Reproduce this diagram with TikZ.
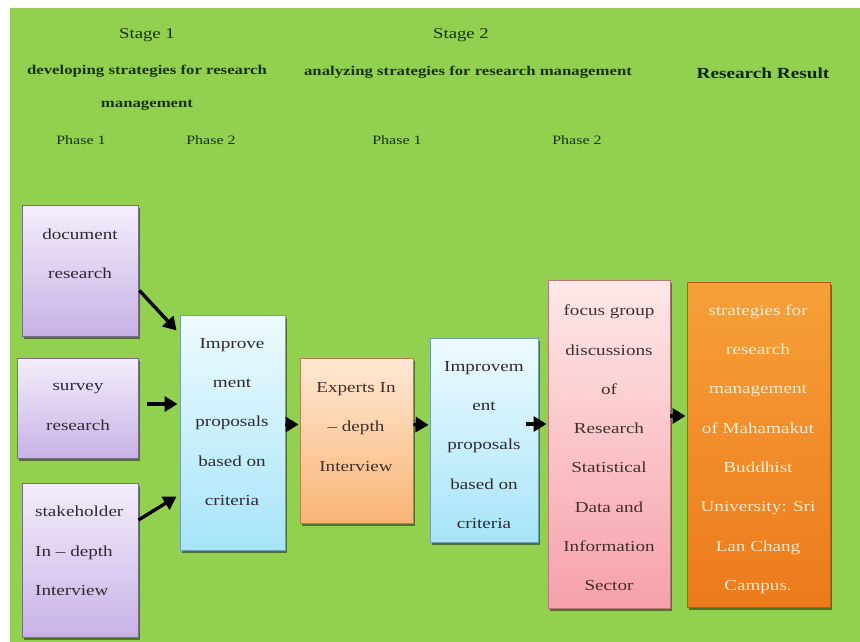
\documentclass[tikz,border=0pt]{standalone}
\usepackage{fontspec}
\setmainfont{Liberation Serif}[FakeStretch=1.25]
\usetikzlibrary{arrows.meta,shadows,calc}

\definecolor{bggreen}{HTML}{92D050}
\definecolor{headtext}{HTML}{1A340A}
\definecolor{resulttext}{HTML}{10240A}
\definecolor{purtop}{HTML}{F4EEFB}
\definecolor{purbot}{HTML}{C7B2E6}
\definecolor{purline}{HTML}{7A6C8A}
\definecolor{blutop}{HTML}{EEFBFF}
\definecolor{blubot}{HTML}{A6E4F8}
\definecolor{bluline}{HTML}{6FA0B4}
\definecolor{lortop}{HTML}{FFE8D4}
\definecolor{lorbot}{HTML}{F8B474}
\definecolor{lorline}{HTML}{B8804C}
\definecolor{pinktop}{HTML}{FFE8E8}
\definecolor{pinkbot}{HTML}{F6A0AA}
\definecolor{pinkline}{HTML}{B87878}
\definecolor{ortop}{HTML}{F6A038}
\definecolor{orbot}{HTML}{EC7A1C}
\definecolor{orline}{HTML}{B85E14}
\definecolor{darkbox}{HTML}{2E2A34}
\definecolor{brownbox}{HTML}{42302C}
\definecolor{creamtext}{HTML}{FDEBD0}

\tikzset{
  panel/.style={draw, line width=0.9pt,
    drop shadow={shadow xshift=2pt, shadow yshift=-2.5pt, opacity=0.45, fill=black}},
  purplebox/.style={panel, draw=purline, top color=purtop, bottom color=purbot},
  bluebox/.style={panel, draw=bluline, top color=blutop, bottom color=blubot},
  lorangebox/.style={panel, draw=lorline, top color=lortop, bottom color=lorbot},
  pinkbox/.style={panel, draw=pinkline, top color=pinktop, bottom color=pinkbot},
  orangebox/.style={panel, draw=orline, top color=ortop, bottom color=orbot},
  boxtext/.style={font=\fontsize{15.3}{39.3}\selectfont, align=center, inner sep=0pt},
  headline/.style={font=\fontsize{12.8}{16}\selectfont, text=headtext, inner sep=0pt},
  headbold/.style={font=\bfseries\fontsize{13.4}{33}\selectfont, text=headtext, align=center, inner sep=0pt},
  flow/.style={line width=3.4pt, -{Triangle[length=13pt,width=15pt]}, black}
}

\begin{document}
\begin{tikzpicture}[x=1pt,y=-1pt]
  \useasboundingbox (0,0) rectangle (860,642);
  \fill[white] (0,0) rectangle (860,642);
  \fill[bggreen] (10,8) rectangle (860,642);

  % stage headings
  \node[headline, font=\fontsize{15}{18}\selectfont] (st1) at (147,35) {Stage 1};
  \node[headline, font=\fontsize{15}{18}\selectfont] (st2) at (461,35) {Stage 2};
  \node[headbold, anchor=north] (st1desc) at (147,65) {developing strategies for research\\management};
  \node[headbold] (st2desc) at (468,72) {analyzing strategies for research management};
  \node[headbold, font=\bfseries\fontsize{15.4}{18}\selectfont, text=resulttext] (result) at (763,73) {Research Result};
  \node[headline] (ph11) at (81,140) {Phase 1};
  \node[headline] (ph12) at (211,140) {Phase 2};
  \node[headline] (ph21) at (397,140) {Phase 1};
  \node[headline] (ph22) at (577,140) {Phase 2};

  % boxes
  \node[purplebox, minimum width=116pt, minimum height=131pt] (doc) at (80,270.5) {};
  \node[purplebox, minimum width=121pt, minimum height=100pt] (survey) at (77.5,408) {};
  \node[purplebox, minimum width=116pt, minimum height=154pt] (stake) at (80,560) {};
  \node[bluebox, minimum width=105pt, minimum height=235pt] (imp1) at (232.5,432.5) {};
  \node[lorangebox, minimum width=113pt, minimum height=165pt] (exp) at (356.5,440.5) {};
  \node[bluebox, minimum width=108pt, minimum height=204pt] (imp2) at (484,440) {};
  \node[pinkbox, minimum width=122pt, minimum height=328pt] (focus) at (609,444) {};
  \node[orangebox, minimum width=143pt, minimum height=325pt] (strat) at (758.5,444.5) {};

  % box texts
  \node[boxtext, text=darkbox] (tdoc) at (80,254) {document\\research};
  \node[boxtext, text=darkbox] (tsurvey) at (78,407) {survey\\research};
  \node[boxtext, text=darkbox, align=left, anchor=west] (tstake) at (35,551) {stakeholder\\In -- depth\\Interview};
  \node[boxtext, text=darkbox] (timp1) at (232,422) {Improve\\ment\\proposals\\based on\\criteria};
  \node[boxtext, text=brownbox] (texp) at (356,427) {Experts In\\-- depth\\Interview};
  \node[boxtext, text=darkbox] (timp2) at (484,445) {Improvem\\ent\\proposals\\based on\\criteria};
  \node[boxtext, text=brownbox] (tfocus) at (609,448) {focus group\\discussions\\of\\Research\\Statistical\\Data and\\Information\\Sector};
  \node[boxtext, text=creamtext] (tstrat) at (758,449) {strategies for\\research\\management\\of Mahamakut\\Buddhist\\University: Sri\\Lan Chang\\Campus.};

  % connectors
  \draw[flow] ($(doc.east)+(1,20)$) -- ($(imp1.west)+(-3,-102)$);
  \draw[flow] ($(survey.east)+(9,-4)$) -- ($(imp1.west |- survey.east)+(-2,-4)$);
  \draw[flow] ($(stake.east)+(0,-40)$) -- ($(imp1.west)+(-3,64)$);
  \draw[flow] ($(imp1.east)+(0,-8)$) -- ($(exp.west)+(-1,-16)$);
  \draw[flow] ($(exp.east)+(0,-16)$) -- ($(imp2.west)+(-1,-15)$);
  \draw[flow] ($(imp2.east)+(-12,-16)$) -- ($(focus.west)+(-1,-20)$);
  \draw[flow] ($(focus.east)+(0,-28)$) -- ($(strat.west)+(-1,-28.5)$);
\end{tikzpicture}
\end{document}
